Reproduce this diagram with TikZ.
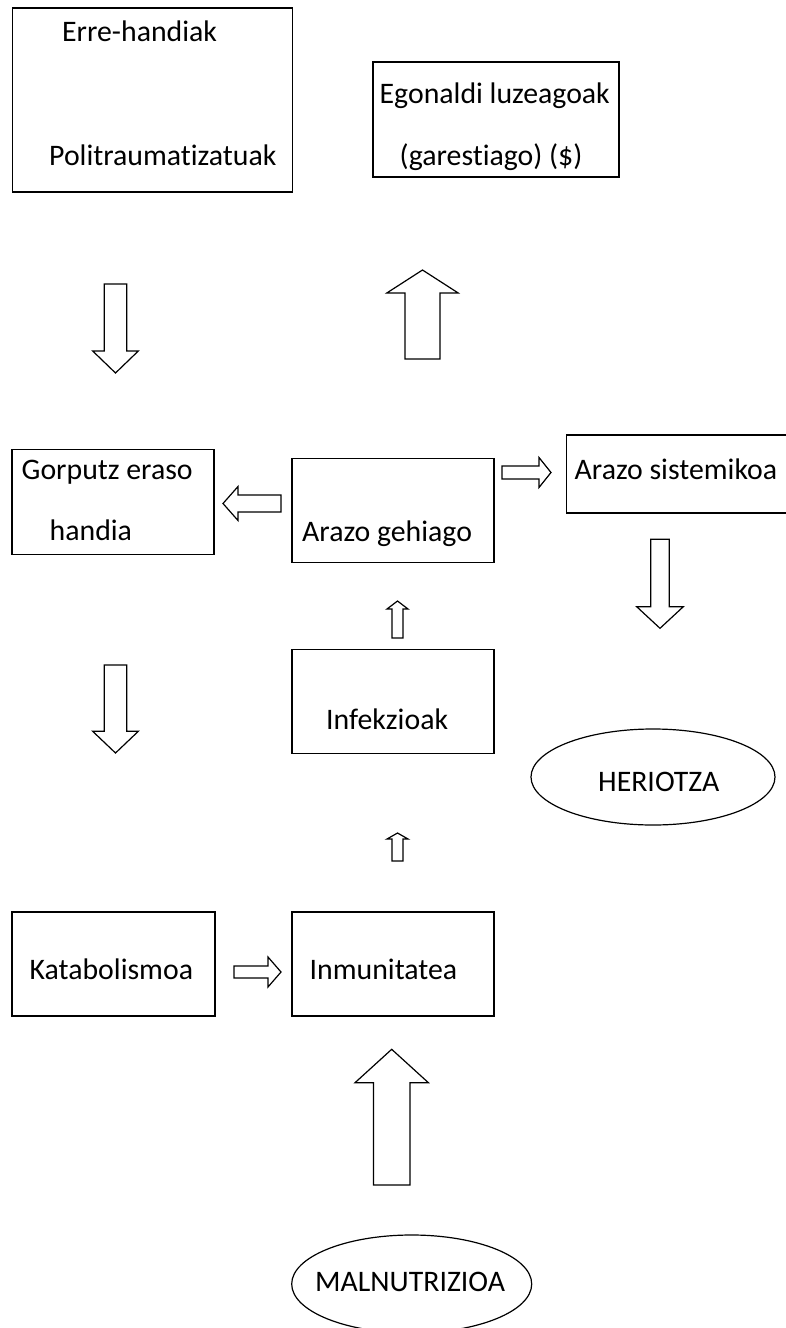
\documentclass[tikz,border=0pt]{standalone}
\usepackage{fontspec}
\setmainfont{Carlito}[Ligatures=NoCommon]
\usepackage{tikz}
\usetikzlibrary{shapes.geometric}

\begin{document}
\begin{tikzpicture}[x=1pt,y=-1pt,
  box/.style={draw,line width=1.2pt,inner sep=0pt},
  blob/.style={draw,ellipse,line width=1.2pt,inner sep=0pt},
  txt/.style={anchor=base west,inner sep=0pt,font=\fontsize{29.8}{35}\selectfont},
  arrowline/.style={draw,line width=1.2pt,fill=white},
  pics/fatarrow/.style args={#1/#2/#3/#4}{code={
    \path[arrowline] (0,-#3) -- (#1-#2,-#3) -- (#1-#2,-#4) -- (#1,0)
      -- (#1-#2,#4) -- (#1-#2,#3) -- (0,#3) -- cycle;}}]
\useasboundingbox (0,0) rectangle (786,1328);
% boxes
\node[box,minimum width=280pt,minimum height=184pt] (erre) at (152.5,100) {};
\node[box,minimum width=246pt,minimum height=115pt] (egon) at (496,119.5) {};
\node[box,minimum width=202pt,minimum height=105pt] (gorp) at (113,501.7) {};
\node[box,minimum width=202pt,minimum height=104pt] (gehi) at (393,510.2) {};
\node[box,minimum width=234pt,minimum height=78pt] (sist) at (683.5,473.9) {};
\node[box,minimum width=202pt,minimum height=104pt] (infe) at (393,701.2) {};
\node[box,minimum width=203pt,minimum height=104pt] (kata) at (113.5,964) {};
\node[box,minimum width=202pt,minimum height=104pt] (inmu) at (393,964) {};
\node[blob,minimum width=244pt,minimum height=96pt] (heri) at (653,777) {};
\node[blob,minimum width=240pt,minimum height=98pt] (maln) at (411.7,1284) {};
% texts
\node[txt] (t1) at (62,41) {Erre-handiak};
\node[txt] (t2) at (49,165.7) {Politraumatizatuak};
\node[txt] (t3) at (379.5,103.3) {Egonaldi luzeagoak};
\node[txt] (t4) at (399.5,165.7) {(garestiago) (\$)};
\node[txt] (t5) at (21.5,479) {Gorputz eraso};
\node[txt] (t6) at (49.5,540.7) {handia};
\node[txt] (t7) at (302,541) {Arazo gehiago};
\node[txt] (t8) at (574.5,479) {Arazo sistemikoa};
\node[txt] (t9) at (326,729) {Infekzioak};
\node[txt] (t10) at (598,791) {HERIOTZA};
\node[txt] (t11) at (29.5,979) {Katabolismoa};
\node[txt] (t12) at (309.5,979) {Inmunitatea};
\node[txt] (t13) at (315,1291) {MALNUTRIZIOA};
% block arrows: tail x / tail y / turn / length / head / shaft half / head half
\foreach \px/\py/\rot/\len/\hd/\sh/\hw in {
  115.5/284/-90/89/22/11.3/22.8,
  422.5/359/90/89/23/17.5/35.7,
  281/503.5/180/58/15/8.5/17,
  502/472.5/0/49/12/6.5/15,
  660/539.3/-90/89/21.6/9.2/23.3,
  397.5/638/90/37/8/5.5/10.5,
  115.5/665/-90/88/21.7/11.3/22.8,
  397.5/861/90/28/6/5.5/10.5,
  234/972/0/47/13/6/15,
  391.7/1185/90/135.7/33.4/18.3/36.7}
  {\pic[rotate=\rot] at (\px,\py) {fatarrow=\len/\hd/\sh/\hw};}
\end{tikzpicture}
\end{document}
